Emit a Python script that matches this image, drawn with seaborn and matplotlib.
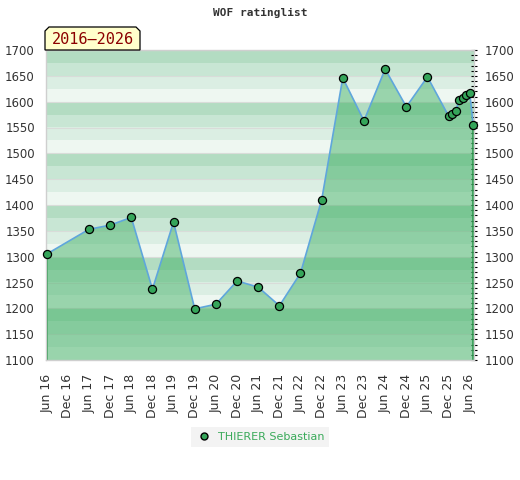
import matplotlib
matplotlib.use("Agg")
import matplotlib.pyplot as plt
from matplotlib.ticker import MultipleLocator
from matplotlib.lines import Line2D
from matplotlib.patches import Polygon
import seaborn as sns
import pandas as pd

# ---- data ----
dates = ["2016-06-01", "2017-06-01", "2017-12-01", "2018-06-01", "2018-12-01",
         "2019-06-01", "2019-12-01", "2020-06-01", "2020-12-01", "2021-06-01",
         "2021-12-01", "2022-06-01", "2022-12-01", "2023-06-01", "2023-12-01",
         "2024-06-01", "2024-12-01", "2025-06-01", "2025-12-01", "2026-01-01",
         "2026-02-01", "2026-03-01", "2026-04-01", "2026-05-01", "2026-06-01",
         "2026-07-01"]
ratings = [1305, 1353, 1361, 1376, 1237, 1367, 1199, 1208, 1253, 1241,
           1205, 1268, 1410, 1646, 1563, 1663, 1590, 1648, 1572, 1577,
           1582, 1603, 1607, 1612, 1617, 1555]
player = "THIERER Sebastian"
title = "WOF ratinglist"
period = "2016\u20132026"
tick_dates = pd.date_range("2016-06-01", "2026-06-01", freq="6MS")
tick_labels = [d.strftime("%b %y") for d in tick_dates]

df = pd.DataFrame({"date": pd.to_datetime(dates), "rating": ratings})

sns.set_style("white")
plt.rcParams["font.family"] = ["DejaVu Sans"]

W, H = 520, 480
fig = plt.figure(figsize=(W / 100, H / 100), dpi=100)
ax = fig.add_axes([46 / W, 1 - 360 / H, (474 - 46) / W, (360 - 50) / H])

ymin, ymax = 1100, 1700
band_colors = ["#b3dcc2", "#c8e6d4", "#dbeee3", "#eef7f1"]
lv = ymax
i = 0
while lv > ymin:
    ax.axhspan(lv - 25, lv, color=band_colors[i % 4], lw=0, zorder=0)
    lv -= 25
    i += 1
for g in range(ymin, ymax + 1, 50):
    ax.axhline(g, color="#d9dcd9", lw=0.8, zorder=0.5)

ax.fill_between(df["date"], df["rating"], ymin, facecolor="#36ac5c", alpha=0.46,
                edgecolor="none", zorder=1)
ax.plot([df["date"].iloc[0]] * 2, [ymin, df["rating"].iloc[0]], color="#2f9a50", lw=1.2, zorder=1.5)
ax.plot([df["date"].iloc[-1]] * 2, [ymin, df["rating"].iloc[-1]], color="#2f9a50", lw=1.2, zorder=1.5)

sns.lineplot(data=df, x="date", y="rating", ax=ax, color="#5fa6dc", lw=1.2, zorder=2)
sns.scatterplot(data=df, x="date", y="rating", ax=ax, color="#35a55a", edgecolor="black",
                linewidth=0.9, s=34, zorder=3, clip_on=False)

ax.set_xlim(pd.Timestamp("2016-05-26"), pd.Timestamp("2026-07-08"))
ax.set_ylim(ymin, ymax)
ax.set_xlabel("")
ax.set_ylabel("")
ax.set_xticks(tick_dates)
ax.set_xticklabels(tick_labels, rotation=90, fontsize=9, color="#333333")
ax.tick_params(axis="x", length=0, pad=10)

ax.yaxis.set_major_locator(MultipleLocator(50))
ax.yaxis.set_minor_locator(MultipleLocator(10))
ax.tick_params(axis="y", which="both", left=False, right=True, labelleft=True,
               labelright=True, direction="inout", colors="black", pad=6,
               labelsize=8.5, labelcolor="#333333")
ax.tick_params(axis="y", which="both", length=4, width=0.8)

for s in ax.spines.values():
    s.set_color("#cfcfcf")
    s.set_linewidth(1)

fig.text(0.5, 1 - 13 / H, title, ha="center", va="center", fontsize=8,
         family="DejaVu Sans Mono", fontweight="bold", color="#333333")

# period tag with chamfered top corners
px = [45, 45, 49, 136, 140, 140]
py = [50, 31, 27, 27, 31, 50]
tag = Polygon([(x / W, 1 - y / H) for x, y in zip(px, py)], closed=True,
              transform=fig.transFigure, facecolor="#ffffcc", edgecolor="black", lw=0.9,
              zorder=5)
fig.add_artist(tag)
fig.text(92.5 / W, 1 - 39.5 / H, period, ha="center", va="center", fontsize=11,
         family="DejaVu Sans Mono", color="#8b0000", zorder=6)

handle = Line2D([], [], marker="o", linestyle="none", markerfacecolor="#35a55a",
                markeredgecolor="black", markersize=5)
leg = fig.legend([handle], [player], loc="center", bbox_to_anchor=(260 / W, 1 - 436.5 / H),
                 frameon=True, fancybox=False, facecolor="#f0f0f0", edgecolor="none",
                 fontsize=8, handletextpad=0.5, handlelength=1.5, borderpad=0.45,
                 borderaxespad=0)
for t in leg.get_texts():
    t.set_color("#3aaa5a")

fig.savefig("out.png", dpi=100)
